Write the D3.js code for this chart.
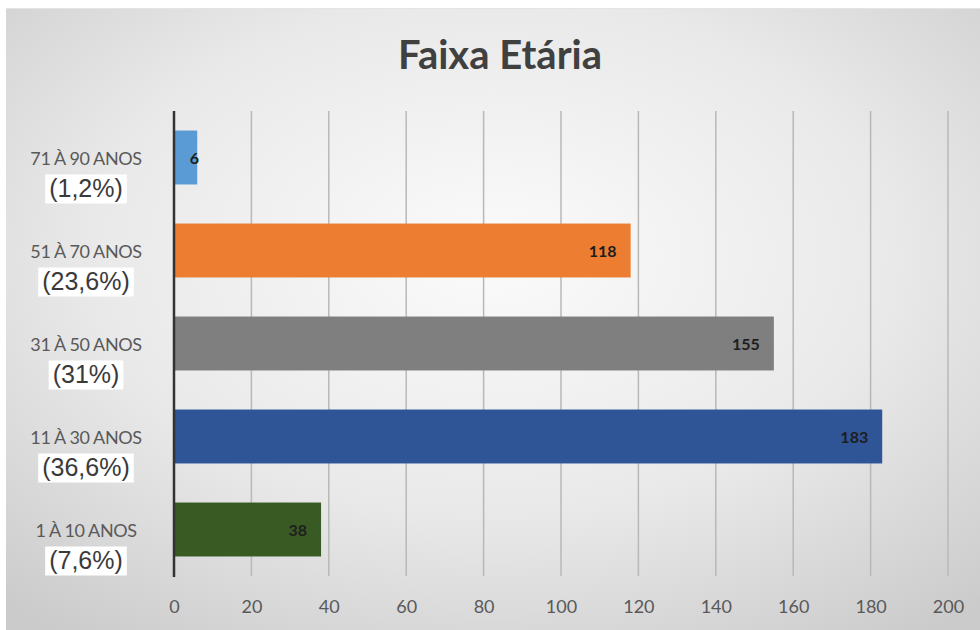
<!DOCTYPE html>
<html>
<head>
<meta charset="utf-8">
<script src="https://cdn.jsdelivr.net/npm/d3@7"></script>
<style>
  body { margin: 0; background: #fff; }
  svg { display: block; }
</style>
</head>
<body>
<div id="chart"></div>
<script>
// data (top to bottom)
let categories = ["71 À 90 ANOS", "51 À 70 ANOS", "31 À 50 ANOS", "11 À 30 ANOS", "1 À 10 ANOS"];
let percents   = ["(1,2%)", "(23,6%)", "(31%)", "(36,6%)", "(7,6%)"];
let values     = [6, 118, 155, 183, 38];
let barColors  = ["#5b9bd5", "#ed7d31", "#7f7f7f", "#2f5597", "#3a5a24"];
let xTicks     = [0, 20, 40, 60, 80, 100, 120, 140, 160, 180, 200];

let width = 980, height = 630;
let margin = {top: 111, right: 32, bottom: 54, left: 174};

let svg = d3.select("#chart").append("svg")
    .attr("width", width)
    .attr("height", height);

// background with soft radial shading
let defs = svg.append("defs");
let grad = defs.append("radialGradient")
    .attr("id", "bg")
    .attr("cx", "50%").attr("cy", "40%").attr("r", "75%");
grad.append("stop").attr("offset", "0%").attr("stop-color", "#fbfbfb");
grad.append("stop").attr("offset", "55%").attr("stop-color", "#e9e9e9");
grad.append("stop").attr("offset", "100%").attr("stop-color", "#cbcbcb");

svg.append("rect")
    .attr("x", 6).attr("y", 8)
    .attr("width", width - 6).attr("height", height - 8)
    .attr("fill", "url(#bg)");
svg.append("line")
    .attr("x1", 6).attr("x2", width)
    .attr("y1", 8.5).attr("y2", 8.5)
    .attr("stroke", "#e4e4e4");

let x = d3.scaleLinear()
    .domain([0, 200])
    .range([margin.left, width - margin.right]);

let y = d3.scaleBand()
    .domain(categories)
    .range([margin.top, height - margin.bottom])
    .paddingInner(0.42)
    .paddingOuter(0.21);

// title
svg.append("text")
    .attr("x", 500)
    .attr("y", 69)
    .attr("text-anchor", "middle")
    .attr("font-family", "Lato, 'Open Sans', sans-serif")
    .attr("font-weight", "bold")
    .attr("font-size", "40px")
    .attr("fill", "#404040")
    .text("Faixa Etária");

// gridlines
svg.append("g")
    .selectAll("line")
    .data(xTicks.slice(1))
    .enter()
    .append("line")
    .attr("x1", d => x(d)).attr("x2", d => x(d))
    .attr("y1", margin.top)
    .attr("y2", height - margin.bottom)
    .attr("stroke", "#b8b8b8")
    .attr("stroke-width", 1.5);

// x axis labels
let xAxis = d3.axisBottom(x)
    .tickValues(xTicks)
    .tickSize(0)
    .tickPadding(0);

let gx = svg.append("g")
    .attr("transform", `translate(0, ${height - margin.bottom})`)
    .call(xAxis);
gx.select(".domain").remove();
gx.selectAll("text")
    .attr("y", 37)
    .attr("dy", 0)
    .attr("font-family", "Lato, sans-serif")
    .attr("font-size", "18px")
    .attr("fill", "#595959");

// bars
svg.selectAll(".bar")
    .data(values)
    .enter()
    .append("rect")
    .attr("class", "bar")
    .attr("x", x(0))
    .attr("y", (d, i) => y(categories[i]))
    .attr("width", d => x(d) - x(0))
    .attr("height", y.bandwidth())
    .attr("fill", (d, i) => barColors[i]);

// value labels, inside end
svg.selectAll(".val")
    .data(values)
    .enter()
    .append("text")
    .attr("class", "val")
    .attr("x", d => Math.max(x(d) - 14, x(0) + 25))
    .attr("y", (d, i) => y(categories[i]) + y.bandwidth() / 2 + 6)
    .attr("text-anchor", "end")
    .attr("font-family", "Lato, sans-serif")
    .attr("font-weight", "bold")
    .attr("font-size", "16px")
    .attr("fill", "#1e1e1e")
    .text(d => d);

// y axis line
svg.append("line")
    .attr("x1", x(0)).attr("x2", x(0))
    .attr("y1", margin.top)
    .attr("y2", height - margin.bottom + 1)
    .attr("stroke", "#333")
    .attr("stroke-width", 2.5);

// category labels
svg.selectAll(".cat")
    .data(categories)
    .enter()
    .append("text")
    .attr("class", "cat")
    .attr("x", 86)
    .attr("y", d => y(d) + y.bandwidth() / 2 + 7)
    .attr("text-anchor", "middle")
    .attr("font-family", "Lato, sans-serif")
    .attr("font-size", "18px")
    .attr("letter-spacing", "-0.4px")
    .attr("fill", "#595959")
    .text(d => d);

// percentage labels on white boxes
let pct = svg.selectAll(".pct")
    .data(percents)
    .enter()
    .append("g")
    .attr("class", "pct");

pct.append("text")
    .attr("x", 86)
    .attr("y", (d, i) => y(categories[i]) + y.bandwidth() / 2 + 39)
    .attr("text-anchor", "middle")
    .attr("font-family", "'Liberation Sans', Arial, sans-serif")
    .attr("font-size", "25px")
    .attr("fill", "#3a3a3a")
    .text(d => d);

pct.each(function() {
    let g = d3.select(this);
    let bb = g.select("text").node().getBBox();
    g.insert("rect", "text")
        .attr("x", bb.x - 4)
        .attr("y", bb.y + 1)
        .attr("width", bb.width + 8)
        .attr("height", bb.height + 1)
        .attr("fill", "#ffffff");
});
</script>
</body>
</html>
